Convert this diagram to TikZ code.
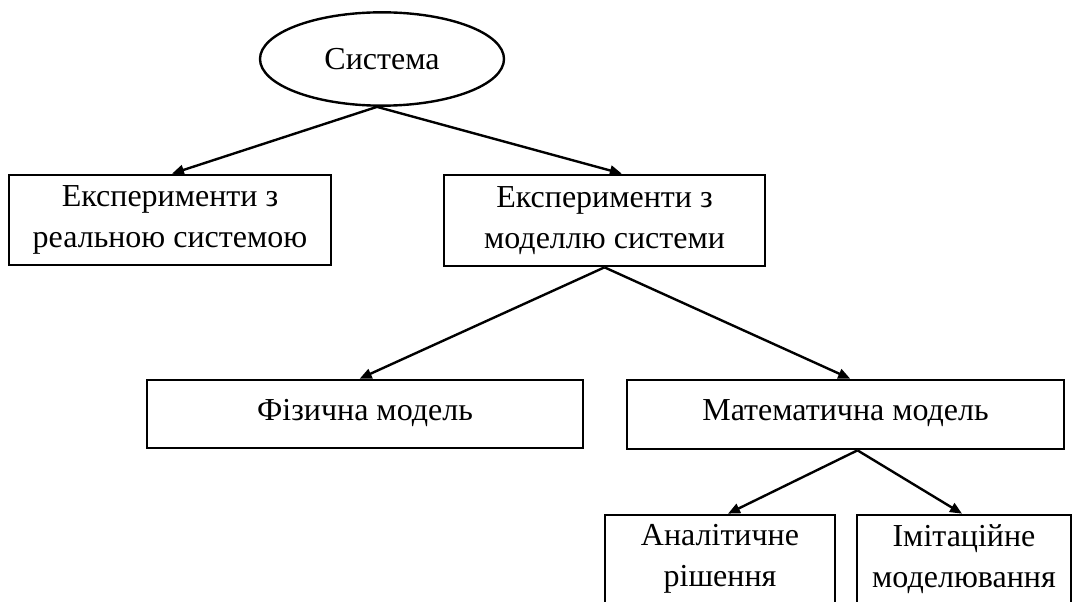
\documentclass[tikz,border=0pt]{standalone}
\usepackage{fontspec}
\setmainfont{Liberation Serif}
\usetikzlibrary{shapes.geometric,arrows.meta}
\begin{document}
\begin{tikzpicture}[x=0.75pt,y=-0.75pt,
  every node/.style={font=\fontsize{24}{30.5}\selectfont, align=center, inner sep=0pt, text=black},
  boxnode/.style={draw=black, line width=2pt, rectangle},
  conn/.style={line width=1.8pt, -{Triangle[length=9pt,width=7.5pt]}}]
\useasboundingbox (0,0) rectangle (1073,602);
\clip (0,0) rectangle (1073,602);
\node[draw=black, line width=1.8pt, ellipse, minimum width=183pt, minimum height=70pt] (ell) at (382,59) {Система};
\node[boxnode, minimum width=241.5pt, minimum height=67.5pt] (b1) at (170,220) {Експерименти з\\реальною системою};
\node[boxnode, minimum width=240.75pt, minimum height=68.25pt] (b2) at (604.5,220.5) {Експерименти з\\моделлю системи};
\node[boxnode, minimum width=327pt, minimum height=51pt] (b3) at (365,414) {\raisebox{6pt}{Фізична модель}};
\node[boxnode, minimum width=327.75pt, minimum height=51.75pt] (b4) at (845.5,414.5) {\raisebox{6pt}{Математична модель}};
\node[boxnode, minimum width=172.5pt, minimum height=66pt] (b5) at (720,559) {Аналітичне\\рішення};
\node[boxnode, minimum width=160.5pt, minimum height=66pt] (b6) at (964,559) {Імітаційне\\моделювання};
\draw[conn] ([xshift=-3.75pt]ell.south) -- ([xshift=1.5pt]b1.north);
\draw[conn] ([xshift=-3.75pt]ell.south) -- ([xshift=13pt]b2.north);
\draw[conn] (b2.south) -- ([xshift=-4pt]b3.north);
\draw[conn] (b2.south) -- ([xshift=3.5pt]b4.north);
\draw[conn] ([xshift=9pt]b4.south) -- ([xshift=6pt]b5.north);
\draw[conn] ([xshift=9pt]b4.south) -- ([xshift=-1.5pt]b6.north);
\end{tikzpicture}
\end{document}
